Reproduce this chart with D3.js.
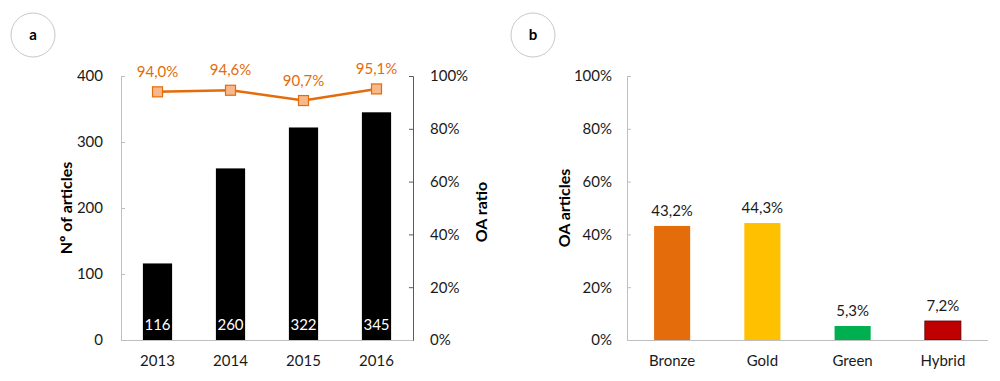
<!DOCTYPE html>
<html>
<head>
<meta charset="utf-8">
<script src="https://cdn.jsdelivr.net/npm/d3@7"></script>
<style>
  body { margin: 0; background: #fff; }
  svg text { font-family: Lato, "Open Sans", sans-serif; }
</style>
</head>
<body>
<svg id="chart" width="1000" height="381"></svg>
<script>
// panel a data
var years = ["2013", "2014", "2015", "2016"];
var articles = [116, 260, 322, 345];
var oaRatio = [0.940, 0.946, 0.907, 0.951];
var leftTicks = [0, 100, 200, 300, 400];
var pctTicks = [0, 0.2, 0.4, 0.6, 0.8, 1.0];

// panel b data
var oaTypes = ["Bronze", "Gold", "Green", "Hybrid"];
var oaShare = [0.432, 0.443, 0.053, 0.072];
var typeColors = ["#e46c0a", "#ffc000", "#00b050", "#c00000"];

var svg = d3.select("#chart");
var pct = function (v) { return d3.format(".1f")(v * 100).replace(".", ",") + "%"; };
var pct0 = function (v) { return Math.round(v * 100) + "%"; };

function badge(cx, cy, letter) {
  svg.append("circle").attr("cx", cx).attr("cy", cy).attr("r", 22)
    .attr("fill", "#fff").attr("stroke", "#c8c8c8").attr("stroke-width", 1);
  svg.append("text").attr("x", cx).attr("y", cy + 5).attr("text-anchor", "middle")
    .attr("font-size", 15).attr("font-weight", "bold").text(letter);
}

function styleAxis(g, color) {
  g.select(".domain").attr("stroke", color);
  g.selectAll(".tick line").attr("stroke", color);
  g.selectAll(".tick text").attr("font-size", 15).attr("fill", "#1a1a1a")
    .style("font-family", "Lato, 'Open Sans', sans-serif");
}

// ---------- panel a ----------
badge(33, 35, "a");

var plotTop = 76, plotBottom = 340;
var xa = d3.scaleBand().domain(years).range([121, 413]).paddingInner(0.6).paddingOuter(0.3);
var ya = d3.scaleLinear().domain([0, 400]).range([plotBottom, plotTop]);
var yr = d3.scaleLinear().domain([0, 1]).range([plotBottom, plotTop]);

var gl = svg.append("g").attr("transform", "translate(121,0)")
  .call(d3.axisLeft(ya).tickValues(leftTicks).tickSizeInner(-4).tickSizeOuter(-4).tickPadding(18));
styleAxis(gl, "#bfbfbf");

var gr = svg.append("g").attr("transform", "translate(413,0)")
  .call(d3.axisRight(yr).tickValues(pctTicks).tickFormat(pct0).tickSizeInner(-4).tickSizeOuter(-4).tickPadding(17));
styleAxis(gr, "#595959");

svg.selectAll(".bar-a").data(articles).enter().append("rect")
  .attr("x", function (d, i) { return xa(years[i]); })
  .attr("width", xa.bandwidth())
  .attr("y", function (d) { return ya(d); })
  .attr("height", function (d) { return plotBottom - ya(d); })
  .attr("fill", "#000");

svg.selectAll(".lab-a").data(articles).enter().append("text")
  .attr("x", function (d, i) { return xa(years[i]) + xa.bandwidth() / 2; })
  .attr("y", 330).attr("text-anchor", "middle").attr("font-size", 15)
  .attr("fill", "#fff").text(function (d) { return d; });

var gx = svg.append("g").attr("transform", "translate(0," + plotBottom + ")")
  .call(d3.axisBottom(xa).tickSize(0).tickPadding(15));
styleAxis(gx, "#bfbfbf");
gx.select(".domain").attr("d", "M121,0.5H413");

var cx = function (d, i) { return xa(years[i]) + xa.bandwidth() / 2; };
var line = d3.line().x(cx).y(function (d) { return yr(d); });
svg.append("path").datum(oaRatio).attr("d", line)
  .attr("fill", "none").attr("stroke", "#e46c0a").attr("stroke-width", 2.5);
svg.selectAll(".mk").data(oaRatio).enter().append("rect")
  .attr("x", function (d, i) { return cx(d, i) - 5; })
  .attr("y", function (d) { return yr(d) - 5; })
  .attr("width", 10).attr("height", 10)
  .attr("fill", "#f8b88b").attr("stroke", "#e46c0a").attr("stroke-width", 1.2);
svg.selectAll(".lab-r").data(oaRatio).enter().append("text")
  .attr("x", cx).attr("y", function (d) { return yr(d) - 15; })
  .attr("text-anchor", "middle").attr("font-size", 15).attr("fill", "#e46c0a")
  .text(pct);

svg.append("text").attr("transform", "translate(72,208) rotate(-90)")
  .attr("text-anchor", "middle").attr("font-size", 16).attr("font-weight", "bold")
  .text("Nº of articles");
svg.append("text").attr("transform", "translate(487,212) rotate(-90)")
  .attr("text-anchor", "middle").attr("font-size", 16).attr("font-weight", "bold")
  .text("OA ratio");

// ---------- panel b ----------
badge(533, 35, "b");

var xb = d3.scaleBand().domain(oaTypes).range([627, 988]).paddingInner(0.6).paddingOuter(0.3);
var yb = d3.scaleLinear().domain([0, 1]).range([plotBottom, plotTop]);

var gbl = svg.append("g").attr("transform", "translate(627,0)")
  .call(d3.axisLeft(yb).tickValues(pctTicks).tickFormat(pct0).tickSizeInner(-4).tickSizeOuter(-4).tickPadding(15));
styleAxis(gbl, "#bfbfbf");

svg.selectAll(".bar-b").data(oaShare).enter().append("rect")
  .attr("x", function (d, i) { return xb(oaTypes[i]); })
  .attr("width", xb.bandwidth())
  .attr("y", function (d) { return yb(d); })
  .attr("height", function (d) { return plotBottom - yb(d); })
  .attr("fill", function (d, i) { return typeColors[i]; })
  .attr("stroke", function (d, i) { return i === 3 ? "#5a0000" : "none"; })
  .attr("stroke-width", 0.8);

svg.selectAll(".lab-b").data(oaShare).enter().append("text")
  .attr("x", function (d, i) { return xb(oaTypes[i]) + xb.bandwidth() / 2; })
  .attr("y", function (d) { return yb(d) - 10; })
  .attr("text-anchor", "middle").attr("font-size", 15).attr("fill", "#1a1a1a")
  .text(pct);

var gbx = svg.append("g").attr("transform", "translate(0," + plotBottom + ")")
  .call(d3.axisBottom(xb).tickSize(0).tickPadding(15));
styleAxis(gbx, "#bfbfbf");
gbx.select(".domain").attr("d", "M627,0.5H988");

svg.append("text").attr("transform", "translate(570,208) rotate(-90)")
  .attr("text-anchor", "middle").attr("font-size", 16).attr("font-weight", "bold")
  .text("OA articles");
</script>
</body>
</html>
